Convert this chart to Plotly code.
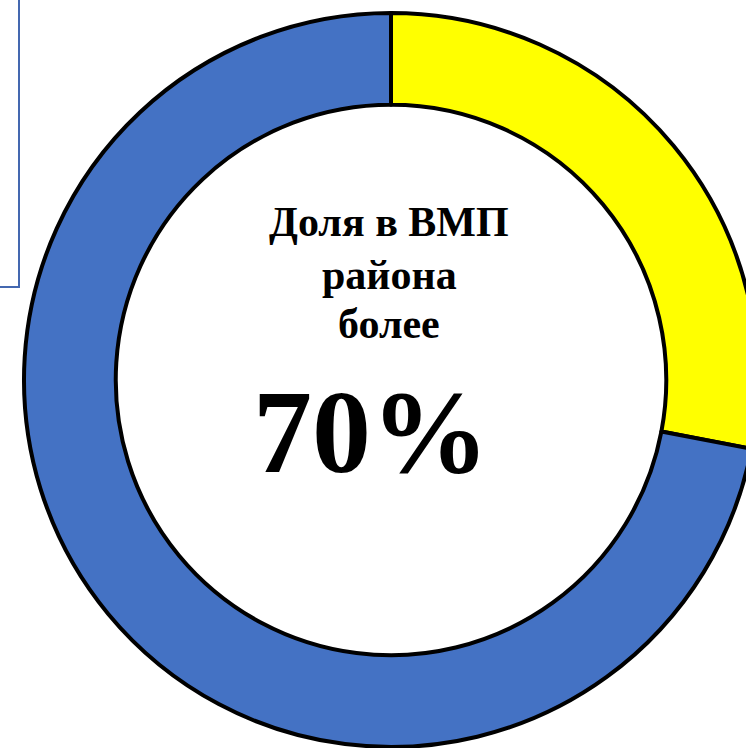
import plotly.graph_objects as go

labels = ["Доля в ВМП района", "Прочие"]
values = [28, 72]
colors = ["#FFFF00", "#4472C4"]
center_lines = ["Доля в ВМП", "района", "более"]
center_value = "70%"

W, H = 782, 760
R = 367
half = R / H

fig = go.Figure()
fig.add_trace(go.Pie(
    labels=labels, values=values, hole=0.75, sort=False,
    direction="clockwise", rotation=0,
    marker=dict(colors=colors, line=dict(color="black", width=4)),
    textinfo="none", hoverinfo="none", showlegend=False,
    domain=dict(x=[0, 1], y=[0.5 - half, 0.5 + half]),
))

line_y = [222, 275, 324]
for txt, yy in zip(center_lines, line_y):
    fig.add_annotation(x=389 / W, y=1 - yy / H, xref="paper", yref="paper",
                       xanchor="center", yanchor="middle",
                       text="<b>" + txt + "</b>", showarrow=False,
                       font=dict(family="Liberation Serif", size=42, color="black"),
                       align="center")
fig.add_annotation(x=371 / W, y=1 - 432 / H, xref="paper", yref="paper",
                   xanchor="center", yanchor="middle",
                   text="<b>" + center_value + "</b>", showarrow=False,
                   font=dict(family="Liberation Serif", size=118, color="black"),
                   align="center")

fig.add_shape(type="rect", xref="paper", yref="paper",
              x0=-40 / W, x1=19 / W, y0=1 - 287 / H, y1=1 + 20 / H,
              line=dict(color="#4468B0", width=2), fillcolor="rgba(0,0,0,0)")

fig.update_layout(width=W, height=H, margin=dict(l=0, r=0, t=0, b=0),
                  paper_bgcolor="white", plot_bgcolor="white")
fig.write_html("out.html", config={"displayModeBar": False},
               post_script="document.body.style.margin='0';document.body.style.overflow='hidden';document.documentElement.style.overflow='hidden';")
